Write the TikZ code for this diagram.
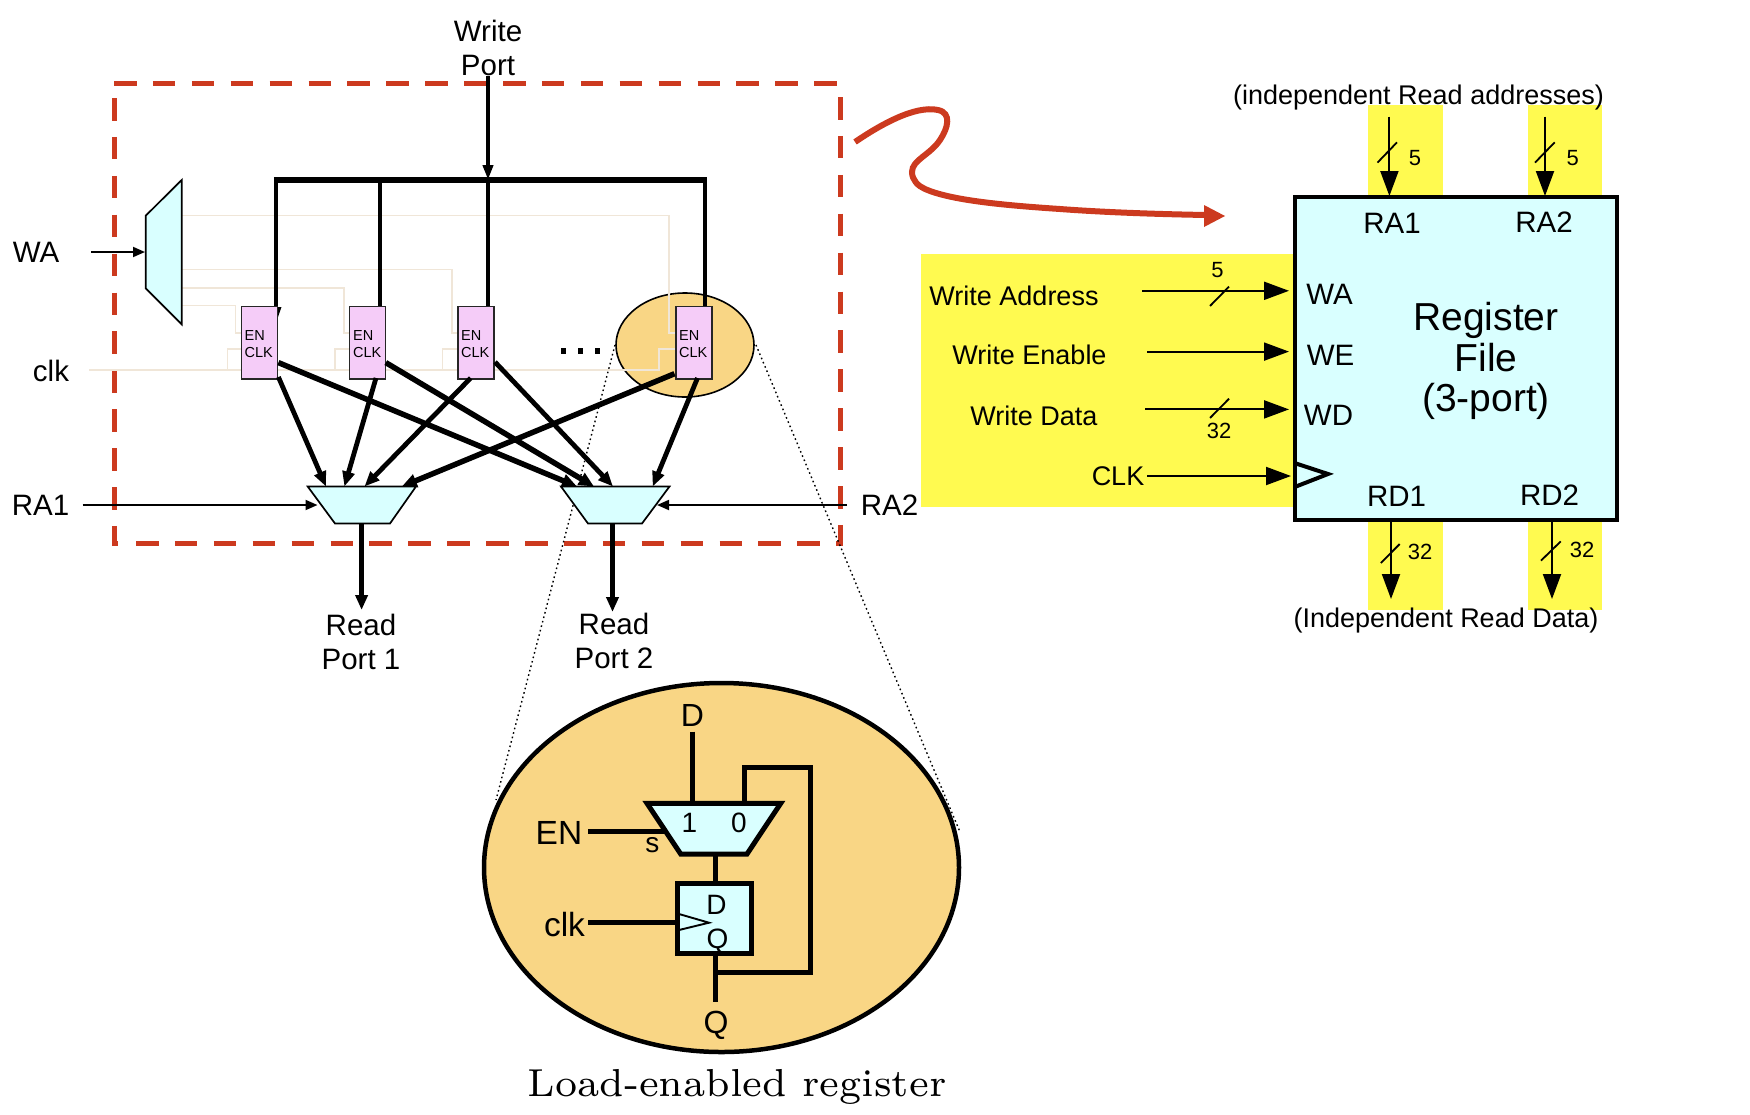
\documentclass[tikz,border=0pt]{standalone}
\usepackage{fontspec}
\setsansfont{Liberation Sans}
\newfontfamily\capfont[Extension=.otf]{lmroman7-regular}
\usetikzlibrary{arrows.meta,shapes.geometric}
\definecolor{cyanfill}{HTML}{D9FFFF}
\definecolor{yellowfill}{HTML}{FFFA50}
\definecolor{orangefill}{HTML}{F9D685}
\definecolor{pinkfill}{HTML}{F5CCF8}
\definecolor{tanline}{HTML}{F0E6D8}
\definecolor{redline}{HTML}{CC3A1F}
\tikzset{
  f14/.style={font=\sffamily\fontsize{14.5}{17}\selectfont},
  f22/.style={font=\sffamily\fontsize{22}{26}\selectfont},
  f27/.style={font=\sffamily\fontsize{27}{34}\selectfont},
  f28/.style={font=\sffamily\fontsize{28}{34}\selectfont},
  f30/.style={font=\sffamily\fontsize{29.5}{34}\selectfont},
  f34/.style={font=\sffamily\fontsize{33.5}{36}\selectfont},
  f32/.style={font=\sffamily\fontsize{32}{36}\selectfont},
  f39/.style={font=\sffamily\fontsize{39}{40.5}\selectfont},
  txt/.style={inner sep=0pt,align=center},
  reddash/.style={draw=redline,line width=5pt,dash pattern=on 22.5pt off 16.4pt},
  tanwire/.style={draw=tanline,line width=1.4pt},
  bigbus/.style={line width=4.6pt},
  thinarrow/.style={line width=1.8pt,-{Triangle[length=12pt,width=10pt]}},
  sizearrow/.style={line width=2pt,-{Triangle[length=25pt,width=18pt]}},
  slash/.style={line width=1.8pt},
  heavy/.style={line width=4.8pt,-{Triangle[length=15pt,width=12pt]}},
  heavier/.style={line width=5.5pt,-{Triangle[length=15pt,width=13pt]}},
  regbox/.style={draw=black!85,line width=1.5pt,outer sep=0pt,fill=pinkfill,minimum width=36pt,minimum height=72.5pt,inner sep=0pt,anchor=north west},
  muxpoly/.style={draw=black,line width=1.7pt,fill=cyanfill},
  thick4/.style={line width=5pt},
}
\begin{document}
\begin{tikzpicture}[x=1pt,y=-1pt]
\useasboundingbox (0,0) rectangle (1750,1114);
% yellow bands
\fill[yellowfill] (1368,105) rectangle (1443,196);
\fill[yellowfill] (1528,105) rectangle (1602,196);
\fill[yellowfill] (921,254) rectangle (1294,507);
\fill[yellowfill] (1368,519) rectangle (1443,610);
\fill[yellowfill] (1528,519) rectangle (1602,610);
% red dashed frame
\draw[reddash] (114,83.5) -- (838,83.5);
\draw[reddash] (840,97) -- (840,546);
\draw[reddash] (136,543) -- (838,543);
\draw[reddash] (114,98) -- (114,546);
\draw[draw=redline,line width=5pt] (112,543) -- (118,543);
% small ellipse and zoom lines
\node[draw=black,line width=1.6pt,fill=orangefill,ellipse,minimum width=138pt,minimum height=104pt,inner sep=0pt] (smallell) at (685,345) {};
\coordinate (zl1) at (615,345); \coordinate (zl2) at (496,800);
\coordinate (zr1) at (756,345); \coordinate (zr2) at (960,832);
\draw[line width=1.4pt,dash pattern=on 1.6pt off 3pt] (zl1) -- (zl2);
\draw[line width=1.4pt,dash pattern=on 1.6pt off 3pt] (zr1) -- (zr2);
% tan lines
\draw[tanwire] (182,215.7) -| (669,333) -- (676,333);
\draw[tanwire] (182,269.7) -| (452,333) -- (458,333);
\draw[tanwire] (182,288) -| (344,333) -- (349,333);
\draw[tanwire] (182,305.7) -| (235.7,333) -- (241,333);
\draw[tanwire] (89,370) -| (659,349) -- (676,349);
\draw[tanwire] (227.7,370) |- (241,349);
\draw[tanwire] (335,370) |- (349,349);
\draw[tanwire] (442.7,370) |- (458,349);
% bus
\node[txt,f30] (writeport) at (488,48) {Write\\Port};
\coordinate (wptop) at (488,76); \coordinate (wpbus) at (488,180);
\coordinate (busl) at (276,180); \coordinate (busr) at (705,180);
\draw[line width=5.2pt] (busl) ++(-2.2,0) -- ([xshift=2.2pt]busr);
\draw[line width=3.8pt,-{Triangle[length=15pt,width=10pt]}] (wptop) -- (wpbus);
% registers
\node[regbox] (reg1) at (241.6,306.5) {};
\node[regbox] (reg2) at (349.6,306.5) {};
\node[regbox] (reg3) at (458.2,306.5) {};
\node[regbox] (reg4) at (676.2,306.5) {};
\coordinate (t1) at (276,306); \coordinate (t2) at (380,306); \coordinate (t3) at (488,306); \coordinate (t4) at (705,306);
\draw[bigbus] (busl) -- (t1);
\draw[bigbus] (busl -| t2) -- (t2);
\draw[bigbus] (wpbus) -- (t3);
\draw[bigbus] (busr) -- (t4);
\fill (278,307) -- (281.5,307) -- (278,317) -- cycle;
% decoder
\draw[muxpoly] (145.7,215.7) -- (181.7,180) -- (181.7,324.3) -- (145.7,288.3) -- cycle;
\node[inner sep=0pt,minimum size=1pt] (dec) at (145.7,252) {};
\coordinate (wastart) at (91,252);
\draw[thinarrow] (wastart) -- (dec);
\node[txt,f30] (wal) at (36,252) {WA};
\node[txt,f30] (clkl) at (51,370.5) {clk};
% read muxes
\coordinate (m1a) at (326,486.5); \coordinate (m1b) at (344.4,486.5); \coordinate (m1c) at (364.5,486.5); \coordinate (m1d) at (401.8,486.5);
\coordinate (m2a) at (577,486.5); \coordinate (m2b) at (594,486.5); \coordinate (m2c) at (613,486.5); \coordinate (m2d) at (652.7,486.5);
\coordinate (r1a) at (278.4,377); \coordinate (r2a) at (376,378); \coordinate (r3a) at (470.7,378); \coordinate (r4a) at (674.5,373.7);
\coordinate (r1b) at (278.4,362.6); \coordinate (r2b) at (385.8,362.6); \coordinate (r3b) at (495,362); \coordinate (r4b) at (697.5,378);
\draw[heavy] (r1a) -- (m1a);
\draw[heavy] (r2a) -- (m1b);
\draw[heavy] (r3a) -- (m1c);
\draw[heavier] (r4a) -- (m1d);
\draw[heavier] (r1b) -- (m2a);
\draw[heavier] (r2b) -- (m2b);
\draw[heavy] (r3b) -- (m2c);
\draw[heavy] (r4b) -- (m2d);
\draw[muxpoly] (307.7,486.5) -- (416,486.5) -- (390,523.5) -- (335,523.5) -- cycle;
\draw[muxpoly] (561,486.5) -- (669.5,486.5) -- (642,523.5) -- (588,523.5) -- cycle;
\coordinate (ra1s) at (82.7,505); \coordinate (ra1e) at (317.5,505);
\coordinate (ra2s) at (847,505); \coordinate (ra2e) at (657,505);
\draw[thinarrow] (ra1s) -- (ra1e);
\draw[thinarrow] (ra2s) -- (ra2e);
\node[txt,f30] (ra1l) at (40.5,505) {RA1};
\node[txt,f30] (ra2l) at (889.5,505) {RA2};
\coordinate (o1s) at (361.6,523); \coordinate (o1e) at (361.6,610);
\coordinate (o2s) at (612.5,523); \coordinate (o2e) at (612.5,612);
\draw[line width=4.4pt,-{Triangle[length=15pt,width=12pt]}] (o1s) -- (o1e);
\draw[line width=4.4pt,-{Triangle[length=15pt,width=12pt]}] (o2s) -- (o2e);
\node[txt,f30] (rp1) at (361,641.5) {Read\\Port 1};
\node[txt,f30] (rp2) at (614,640.5) {Read\\Port 2};
% register labels
\node[f14,inner sep=0pt,anchor=west] (e1) at (244.5,335.7) {EN};
\node[f14,inner sep=0pt,anchor=west] (c1) at (244.5,352.7) {CLK};
\node[f14,inner sep=0pt,anchor=west] (e2) at (353,335.7) {EN};
\node[f14,inner sep=0pt,anchor=west] (c2) at (353,352.7) {CLK};
\node[f14,inner sep=0pt,anchor=west] (e3) at (461,335.7) {EN};
\node[f14,inner sep=0pt,anchor=west] (c3) at (461,352.7) {CLK};
\node[f14,inner sep=0pt,anchor=west] (e4) at (679,335.7) {EN};
\node[f14,inner sep=0pt,anchor=west] (c4) at (679,352.7) {CLK};
\fill (561,348.3) rectangle +(5.3,5.3);
\fill (578,348.3) rectangle +(5.3,5.3);
\fill (594.7,348.3) rectangle +(5.3,5.3);
% red curve
\draw[draw=redline,line width=6pt] (855,142) .. controls (880,125) and (915,105) .. (938,110)
  .. controls (952,113) and (948,128) .. (940,140)
  .. controls (930,155) and (912,160) .. (912,172)
  .. controls (912,180) and (918,186) .. (925,189)
  .. controls (950,200) and (1000,205) .. (1060,209)
  .. controls (1100,212) and (1150,214) .. (1206,215);
\fill[redline] (1204,205) -- (1225,216) -- (1204,227) -- cycle;
% register file
\node[draw=black,line width=4.2pt,outer sep=0pt,fill=cyanfill,minimum width=322.5pt,minimum height=323pt,inner sep=0pt,anchor=north west] (rf) at (1294.7,196.7) {};
\node[txt,f39] (rft) at (1486,361) {Register\\File\\(3-port)};
\node[txt,f27] (indra) at (1418.5,98) {(independent Read addresses)};
\node[txt,f27] (indrd) at (1446,621) {(Independent Read Data)};
\node[txt,f30] (lra1) at (1392,223) {RA1};
\node[txt,f30] (lra2) at (1544,222.5) {RA2};
\node[txt,f30] (lwa) at (1329.5,294) {WA};
\node[txt,f30] (lwe) at (1330.5,355) {WE};
\node[txt,f30] (lwd) at (1328.5,415) {WD};
\node[txt,f30] (lrd1) at (1396.5,496) {RD1};
\node[txt,f30] (lrd2) at (1549.5,495.5) {RD2};
\coordinate (a1s) at (1389.4,116.6); \coordinate (a1e) at (1389.4,196);
\coordinate (a2s) at (1545,116.6); \coordinate (a2e) at (1545,196);
\draw[sizearrow] (a1s) -- (a1e);
\draw[sizearrow] (a2s) -- (a2e);
\draw[slash] (1377.5,162.6) -- (1397,142.3);
\draw[slash] (1535,162.6) -- (1554.7,142.3);
\node[txt,f22] (n5a) at (1415,157.6) {5};
\node[txt,f22] (n5b) at (1572.6,157.6) {5};
\node[txt,f27] (twa) at (1014,295.5) {Write Address};
\node[txt,f27] (twe) at (1029.5,355) {Write Enable};
\node[txt,f27] (twd) at (1034,416) {Write Data};
\node[txt,f27] (tclk) at (1118,476) {CLK};
\coordinate (iwa) at (1142,290.8); \coordinate (ewa) at (1289,290.8);
\coordinate (iwe) at (1147,351.6); \coordinate (ewe) at (1289,351.6);
\coordinate (iwd) at (1145,409.4); \coordinate (ewd) at (1289,409.4);
\coordinate (ick) at (1147,476); \coordinate (eck) at (1291,476);
\draw[sizearrow] (iwa) -- (ewa);
\draw[sizearrow] (iwe) -- (ewe);
\draw[sizearrow] (iwd) -- (ewd);
\draw[sizearrow] (ick) -- (eck);
\draw[slash] (1210,306) -- (1229,286.6);
\draw[slash] (1210,418) -- (1229,398.7);
\node[txt,f22] (n5c) at (1217.6,270.5) {5};
\node[txt,f22] (n32a) at (1219,431) {32};
\draw[line width=4pt,line join=miter] (1296,463.5) -- (1328,474) -- (1296,486.5);
\coordinate (d1s) at (1391,519); \coordinate (d1e) at (1391,599);
\coordinate (d2s) at (1552,519); \coordinate (d2e) at (1552,599);
\draw[sizearrow] (d1s) -- (d1e);
\draw[sizearrow] (d2s) -- (d2e);
\draw[slash] (1380.8,563) -- (1399.7,544);
\draw[slash] (1541,560.6) -- (1560.7,541.4);
\node[txt,f22] (n32b) at (1420,552) {32};
\node[txt,f22] (n32c) at (1582,550) {32};
% big ellipse
\node[draw=black,line width=4.5pt,fill=orangefill,ellipse,minimum width=475pt,minimum height=369pt,inner sep=0pt] (bigell) at (721.5,867.5) {};
\coordinate (dtop) at (692,731.7); \coordinate (dmux) at (692,803.3);
\coordinate (fbm) at (744.5,803.3); \coordinate (fbt) at (744.5,767.3);
\coordinate (fbr) at (810.5,767.3); \coordinate (fbb) at (810.5,972.3); \coordinate (fbq) at (715,972.3);
\draw[thick4] (dtop) -- (dmux);
\draw[thick4,line join=miter] (fbm) -- (fbt) -- (fbr) -- (fbb) -- (fbq);
\coordinate (mout) at (715,854);
\node[draw=black,line width=5pt,outer sep=0pt,fill=cyanfill,minimum width=74.2pt,minimum height=70.3pt,inner sep=0pt,anchor=north west] (ff) at (677,883.5) {};
\draw[thick4] (mout) -- (ff.north -| mout);
\coordinate (qend) at (715,1001.7);
\draw[thick4] (ff.south -| qend) -- (qend);
\coordinate (enl) at (588,831.7); \coordinate (enr) at (667,831.7);
\draw[thick4] (enl) -- (enr);
\coordinate (clkw) at (588,922.7);
\draw[thick4] (clkw) -- (clkw -| ff.west);
\draw[line width=5pt,fill=cyanfill,line join=miter] (647,803.3) -- (780.7,803.3) -- (747,854) -- (680.7,854) -- cycle;
\draw[line width=1.9pt] (679,914) -- (709,922.7) -- (679,930);
\node[txt,f32] (bd) at (692.3,715) {D};
\node[txt,f34] (ben) at (559,832.5) {EN};
\node[txt,f32] (bq) at (716,1025) {Q};
\node[txt,f34] (bclk) at (564.5,925) {clk};
\node[txt,f28] (b1) at (689.5,823) {1};
\node[txt,f28] (b0) at (739,823) {0};
\node[txt,f28] (bs) at (652.4,845) {s};
\node[txt,f28] (id) at (716.5,905) {D};
\node[txt,f28] (iq) at (717.6,941) {Q};
\node[txt,font=\capfont\fontsize{39}{40}\selectfont] (cap) at (737,1087) {Load-enabled register};
\end{tikzpicture}
\end{document}
